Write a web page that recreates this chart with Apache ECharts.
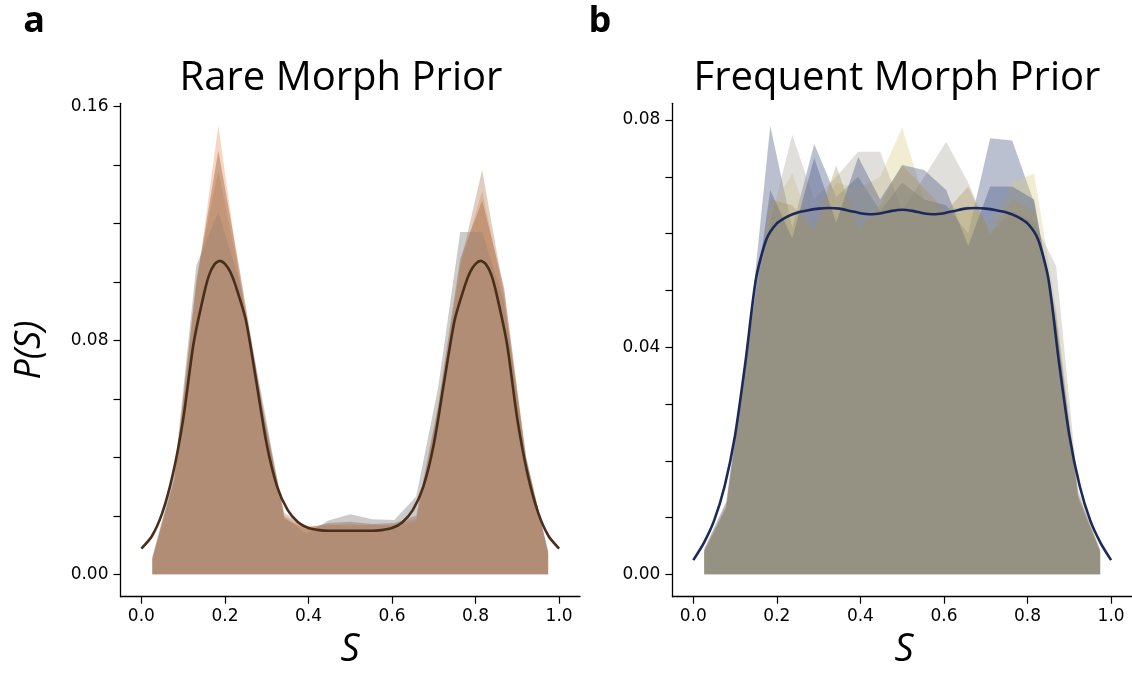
<!DOCTYPE html>
<html>
<head>
<meta charset="utf-8">
<script src="https://cdn.jsdelivr.net/npm/echarts@6/dist/echarts.min.js"></script>
<style>html,body{margin:0;padding:0;background:#fff;}#c{width:1132px;height:674px;}</style>
</head>
<body>
<div id="c"></div>
<script>
// ---- data ----
const binCenters = [0.0263, 0.0789, 0.1316, 0.1842, 0.2368, 0.2895, 0.3421, 0.3947, 0.4474, 0.5000,
                    0.5526, 0.6053, 0.6579, 0.7105, 0.7632, 0.8158, 0.8684, 0.9211, 0.9737];

// Panel a: Rare Morph Prior (histogram-like runs)
const rarePeach = [0.0050, 0.0320, 0.0980, 0.1534, 0.1000, 0.0560, 0.0200, 0.0160, 0.0170, 0.0165, 0.0170, 0.0165, 0.0180, 0.0560, 0.1050, 0.1312, 0.0950, 0.0380, 0.0070];
const rareBrown = [0.0055, 0.0330, 0.1000, 0.1449, 0.1030, 0.0580, 0.0190, 0.0155, 0.0175, 0.0180, 0.0172, 0.0175, 0.0200, 0.0580, 0.1080, 0.1278, 0.0980, 0.0400, 0.0075];
const rareGray  = [0.0060, 0.0345, 0.1057, 0.1239, 0.0990, 0.0600, 0.0197, 0.0138, 0.0184, 0.0205, 0.0188, 0.0186, 0.0266, 0.0640, 0.1171, 0.1171, 0.0930, 0.0400, 0.0080];
const rareTan   = [0.0052, 0.0325, 0.1010, 0.1380, 0.1010, 0.0570, 0.0210, 0.0165, 0.0168, 0.0172, 0.0166, 0.0170, 0.0190, 0.0570, 0.1060, 0.1383, 0.0960, 0.0390, 0.0072];

// Smooth density curves
const rareCurveX = [0.000, 0.025, 0.050, 0.075, 0.100, 0.125, 0.150, 0.1625, 0.175, 0.1875, 0.200, 0.2125, 0.225, 0.250, 0.275, 0.300, 0.325, 0.350, 0.375, 0.400, 0.425, 0.450, 0.475, 0.500,
                    0.525, 0.550, 0.575, 0.600, 0.625, 0.650, 0.675, 0.700, 0.725, 0.750, 0.775, 0.7875, 0.800, 0.8125, 0.825, 0.8375, 0.850, 0.875, 0.900, 0.925, 0.950, 0.975, 1.000];
const rareCurve = [0.0088, 0.0130, 0.0210, 0.0340, 0.0530, 0.0790, 0.0960, 0.1025, 0.1060, 0.1072, 0.1062, 0.1035, 0.0990, 0.0870, 0.0660, 0.0445, 0.0300, 0.0220, 0.0178, 0.0158, 0.0151, 0.0149, 0.0149, 0.0149,
                   0.0149, 0.0149, 0.0151, 0.0158, 0.0178, 0.0220, 0.0300, 0.0445, 0.0660, 0.0870, 0.0990, 0.1035, 0.1062, 0.1072, 0.1060, 0.1025, 0.0960, 0.0790, 0.0530, 0.0340, 0.0210, 0.0130, 0.0088];

// Panel b: Frequent Morph Prior
const freqBlueA = [0.0045, 0.0128, 0.0410, 0.0790, 0.0610, 0.0758, 0.0665, 0.0700, 0.0640, 0.0690, 0.0660, 0.0650, 0.0600, 0.0768, 0.0764, 0.0655, 0.0450, 0.0140, 0.0040];
const freqKhaki = [0.0040, 0.0122, 0.0400, 0.0640, 0.0706, 0.0600, 0.0690, 0.0680, 0.0700, 0.0787, 0.0660, 0.0630, 0.0650, 0.0620, 0.0690, 0.0706, 0.0470, 0.0145, 0.0045];
const freqGray  = [0.0042, 0.0125, 0.0415, 0.0620, 0.0774, 0.0660, 0.0700, 0.0744, 0.0744, 0.0640, 0.0700, 0.0762, 0.0690, 0.0600, 0.0640, 0.0620, 0.0543, 0.0150, 0.0042];
const freqBlueB = [0.0040, 0.0118, 0.0405, 0.0677, 0.0592, 0.0733, 0.0619, 0.0735, 0.0660, 0.0721, 0.0712, 0.0677, 0.0578, 0.0683, 0.0683, 0.0660, 0.0440, 0.0135, 0.0040];
const freqOlive = [0.0043, 0.0120, 0.0408, 0.0660, 0.0650, 0.0607, 0.0720, 0.0607, 0.0650, 0.0721, 0.0680, 0.0640, 0.0683, 0.0598, 0.0660, 0.0640, 0.0460, 0.0140, 0.0043];
const freqCurveX = [0.000, 0.025, 0.050, 0.075, 0.100, 0.125, 0.150, 0.175, 0.200, 0.225, 0.250, 0.275, 0.300, 0.325, 0.350, 0.375, 0.400, 0.425, 0.450, 0.475, 0.500,
                    0.525, 0.550, 0.575, 0.600, 0.625, 0.650, 0.675, 0.700, 0.725, 0.750, 0.775, 0.800, 0.825, 0.850, 0.875, 0.900, 0.925, 0.950, 0.975, 1.000];
const freqCurve = [0.0025, 0.0055, 0.0095, 0.0155, 0.0245, 0.0375, 0.0520, 0.0590, 0.0618, 0.0630, 0.0637, 0.0641, 0.0644, 0.0645, 0.0644, 0.0640, 0.0636, 0.0634, 0.0636, 0.0640, 0.0642,
                   0.0640, 0.0636, 0.0634, 0.0636, 0.0640, 0.0644, 0.0645, 0.0644, 0.0641, 0.0637, 0.0630, 0.0618, 0.0590, 0.0520, 0.0375, 0.0245, 0.0155, 0.0095, 0.0055, 0.0025];

// Tick positions / labels
const xTicks = [0, 0.2, 0.4, 0.6, 0.8, 1.0];
const rareYTicks = [0, 0.02, 0.04, 0.06, 0.08, 0.10, 0.12, 0.14, 0.16];
const rareYLabels = [0, 0.08, 0.16];
const freqYTicks = [0, 0.01, 0.02, 0.03, 0.04, 0.05, 0.06, 0.07, 0.08];
const freqYLabels = [0, 0.04, 0.08];

// ---- chart ----
const pairs = (xs, ys) => xs.map((x, i) => [x, ys[i]]);
const chart = echarts.init(document.getElementById('c'), null, {renderer: 'canvas'});

const tickFont = {color: '#000', fontFamily: 'DejaVu Sans', fontSize: 17};

function xAxisFor(gridIndex) {
  return {
    type: 'value', gridIndex, min: -0.05, max: 1.05, position: 'bottom',
    axisLine: {show: true, onZero: false, lineStyle: {color: '#000', width: 1.3}},
    axisTick: {show: true, customValues: xTicks, length: 7, inside: false, lineStyle: {color: '#000', width: 1.2}},
    axisLabel: Object.assign({show: true, customValues: xTicks, margin: 11, formatter: v => Number(v).toFixed(1)}, tickFont),
    splitLine: {show: false}
  };
}
function yAxisFor(gridIndex, min, max, ticks, labels) {
  return {
    type: 'value', gridIndex, min, max, position: 'left',
    axisLine: {show: true, onZero: false, lineStyle: {color: '#000', width: 1.3}},
    axisTick: {show: true, customValues: ticks, length: 7, inside: false, lineStyle: {color: '#000', width: 1.2}},
    axisLabel: Object.assign({show: true, customValues: labels, margin: 12, formatter: v => Number(v).toFixed(2)}, tickFont),
    splitLine: {show: false}
  };
}
function fillSeries(idx, ys, color, opacity) {
  return {
    type: 'line', xAxisIndex: idx, yAxisIndex: idx, data: pairs(binCenters, ys),
    showSymbol: false, symbol: 'none', silent: true, animation: false,
    lineStyle: {width: 0, opacity: 0},
    areaStyle: {color, opacity, origin: 'auto'}
  };
}
function curveSeries(idx, xs, ys, color) {
  return {
    type: 'line', xAxisIndex: idx, yAxisIndex: idx, data: pairs(xs, ys),
    showSymbol: false, symbol: 'none', silent: true, animation: false, smooth: 0.25,
    lineStyle: {width: 2.6, color}
  };
}

const option = {
  backgroundColor: '#fff',
  animation: false,
  grid: [
    {left: 120.5, right: 552, top: 103.3, bottom: 77.3, outerBoundsMode: 'none', containLabel: false},
    {left: 672.4, right: 0, top: 103.3, bottom: 77.3, outerBoundsMode: 'none', containLabel: false}
  ],
  xAxis: [xAxisFor(0), xAxisFor(1)],
  yAxis: [
    yAxisFor(0, -0.00767, 0.1611, rareYTicks, rareYLabels),
    yAxisFor(1, -0.00394, 0.08295, freqYTicks, freqYLabels)
  ],
  series: [
    fillSeries(0, rarePeach, 'rgb(235,150,100)', 0.4),
    fillSeries(0, rareBrown, 'rgb(145,88,50)', 0.4),
    fillSeries(0, rareGray, 'rgb(125,125,125)', 0.4),
    fillSeries(0, rareTan, 'rgb(180,130,95)', 0.4),
    curveSeries(0, rareCurveX, rareCurve, '#4a2e1c'),
    fillSeries(1, freqBlueA, 'rgb(60,74,122)', 0.35),
    fillSeries(1, freqKhaki, 'rgb(216,204,128)', 0.35),
    fillSeries(1, freqGray, 'rgb(168,164,152)', 0.35),
    fillSeries(1, freqBlueB, 'rgb(60,74,122)', 0.35),
    fillSeries(1, freqOlive, 'rgb(165,145,90)', 0.35),
    curveSeries(1, freqCurveX, freqCurve, '#1b2a5a')
  ],
  graphic: [
    {type: 'text', x: 34, y: 22, style: {text: 'a', fill: '#000', fontFamily: 'Open Sans', fontWeight: 'bold', fontSize: 36, align: 'center', verticalAlign: 'middle'}},
    {type: 'text', x: 600, y: 22, style: {text: 'b', fill: '#000', fontFamily: 'Open Sans', fontWeight: 'bold', fontSize: 36, align: 'center', verticalAlign: 'middle'}},
    {type: 'text', x: 341, y: 79, style: {text: 'Rare Morph Prior', fill: '#000', fontFamily: 'Open Sans', fontSize: 40, align: 'center', verticalAlign: 'middle'}},
    {type: 'text', x: 897, y: 79, style: {text: 'Frequent Morph Prior', fill: '#000', fontFamily: 'Open Sans', fontSize: 40, align: 'center', verticalAlign: 'middle'}},
    {type: 'text', x: 30, y: 350, rotation: Math.PI / 2, style: {text: 'P(S)', fill: '#000', fontFamily: 'Open Sans', fontStyle: 'italic', fontSize: 36, align: 'center', verticalAlign: 'middle'}},
    {type: 'text', x: 350, y: 650, style: {text: 'S', fill: '#000', fontFamily: 'Open Sans', fontStyle: 'italic', fontSize: 38, align: 'center', verticalAlign: 'middle'}},
    {type: 'text', x: 904, y: 650, style: {text: 'S', fill: '#000', fontFamily: 'Open Sans', fontStyle: 'italic', fontSize: 38, align: 'center', verticalAlign: 'middle'}}
  ]
};
chart.setOption(option);
</script>
</body>
</html>
